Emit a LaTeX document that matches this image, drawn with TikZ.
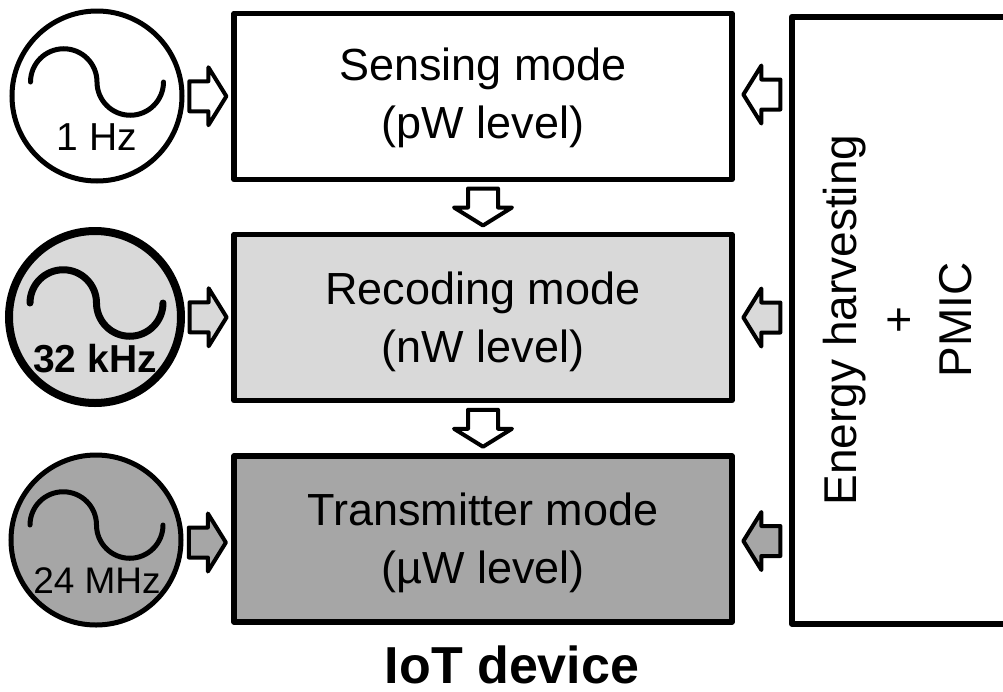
\documentclass[tikz,border=0pt]{standalone}
\usepackage{fontspec}
\setmainfont{Liberation Sans}
\usetikzlibrary{calc}
\definecolor{lgray}{HTML}{D9D9D9}
\definecolor{mgray}{HTML}{A6A6A6}
\newcommand\blockarrow[3]{\draw[barr, fill=#3, shift={#1}, rotate=#2] (-18.5,-15) -- (0.5,-15) -- (0.5,-29) -- (18.5,0) -- (0.5,29) -- (0.5,15) -- (-18.5,15) -- cycle;}
\begin{document}
\begin{tikzpicture}[x=1pt,y=-1pt,
  box/.style={draw, line width=5.5pt, rectangle, minimum width=498pt, minimum height=166pt, inner sep=0pt, line join=round},
  osc/.style={draw, circle, minimum size=170pt, inner sep=0pt, line width=5pt},
  wave/.style={line width=5pt, line cap=round},
  barr/.style={draw, line width=4pt, line join=round},
  modetext/.style={align=center, font=\fontsize{45}{58}\selectfont, inner sep=0pt},
  freq/.style={inner sep=0pt, anchor=base}
]
\useasboundingbox (0,0) rectangle (1003,691);
\clip (0,0) rectangle (1003,691);
\fill[white] (0,0) rectangle (1003,691);

% mode boxes
\node[box] (s) at (483,96.5) {};
\node[box, fill=lgray] (r) at (483,317.5) {};
\node[box, fill=mgray] (t) at (483,539) {};
\node[modetext] (sl) at ($(s.center)+(0,1)$) {Sensing mode\\(pW level)};
\node[modetext] (rl) at ($(r.center)+(0,4)$) {Recoding mode\\(nW level)};
\node[modetext] (tl) at ($(t.center)+(0,4)$) {Transmitter mode\\(µW level)};

% energy harvesting box
\node[draw, line width=5.5pt, line join=round, rectangle, minimum width=260pt, minimum height=607pt, inner sep=0pt, anchor=north west] (eh) at (789,14) {};
\node[modetext, font=\fontsize{46}{57.5}\selectfont, rotate=90] (ehl) at (898,320) {Energy harvesting\\+\\PMIC};

% oscillators
\node[osc] (c1) at (97,96) {};
\node[osc, fill=lgray, line width=8pt, minimum size=172pt] (c2) at (95,317) {};
\node[osc, fill=mgray] (c3) at (96,540) {};
\draw[wave] ($(c1.center)+(-66.5,-14)$) arc[start angle=180, end angle=360, radius=33.25] arc[start angle=180, end angle=0, radius=33.25];
\draw[wave, line width=7pt] ($(c2.center)+(-65,-14)$) arc[start angle=180, end angle=360, radius=33.25] arc[start angle=180, end angle=0, radius=33.25];
\draw[wave] ($(c3.center)+(-66,-15)$) arc[start angle=180, end angle=360, radius=33.25] arc[start angle=180, end angle=0, radius=33.25];
\node[freq, font=\fontsize{39}{39}\selectfont] (f1) at ($(c1.center)+(0,54)$) {1 Hz};
\node[freq, font=\fontsize{39}{39}\selectfont\bfseries] (f2) at ($(c2.center)+(0,55)$) {32 kHz};
\node[freq, font=\fontsize{37}{37}\selectfont] (f3) at ($(c3.center)+(1,53)$) {24 MHz};

% block arrows: oscillators to modes
\blockarrow{($(c1.east)!0.5!(s.west)$)}{0}{white}
\blockarrow{($(c2.east)!0.5!(r.west)$)}{0}{lgray}
\blockarrow{($(c3.east)!0.5!(t.west)+(0,3)$)}{0}{mgray}
% energy harvesting to modes
\blockarrow{($(s.east)!0.5!(s.east -| eh.west)+(0,-2)$)}{180}{white}
\blockarrow{($(r.east)!0.5!(r.east -| eh.west)$)}{180}{lgray}
\blockarrow{($(t.east)!0.5!(t.east -| eh.west)+(0,2)$)}{180}{mgray}
% mode to mode
\blockarrow{($(s.south)!0.5!(r.north)$)}{-90}{white}
\blockarrow{($(r.south)!0.5!(t.north)$)}{-90}{white}

\node[font=\fontsize{52}{52}\selectfont\bfseries, anchor=base, inner sep=0pt] (iot) at (512,683) {IoT device};
\end{tikzpicture}
\end{document}
